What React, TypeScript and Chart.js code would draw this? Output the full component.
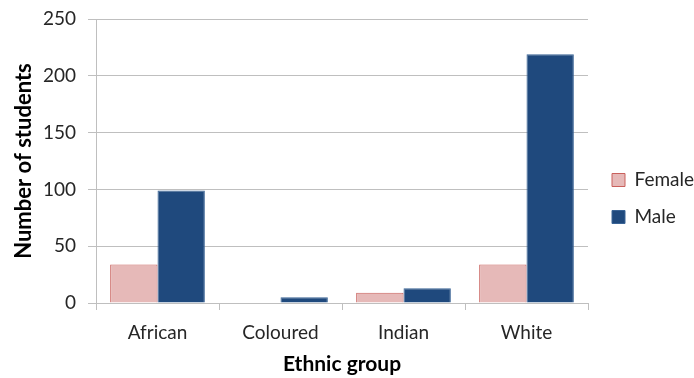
import React, { useEffect, useRef } from "react";
import { Chart, registerables } from "chart.js";

Chart.register(...registerables);

const categories = ["African", "Coloured", "Indian", "White"];
const femaleCounts = [34, 0, 9, 34];
const maleCounts = [99, 5, 13, 219];
const yMax = 250;
const yStep = 50;

const FONT = "Lato, 'Open Sans', sans-serif";

// Shift the right-hand legend a few pixels away from the plot area.
const legendInset = {
  id: "legendInset",
  afterLayout(chart: any) {
    if (chart.legend) {
      chart.legend.left += 6;
      chart.legend.right += 6;
    }
  },
};

export default function App() {
  const canvasRef = useRef<HTMLCanvasElement | null>(null);

  useEffect(() => {
    const canvas = canvasRef.current;
    if (!canvas) return;
    const chart = new Chart(canvas, {
      type: "bar",
      data: {
        labels: categories,
        datasets: [
          {
            label: "Female",
            data: femaleCounts,
            backgroundColor: "#e6b9b8",
            borderColor: "#c9605c",
            borderWidth: 1,
          },
          {
            label: "Male",
            data: maleCounts,
            backgroundColor: "#1f497d",
            borderColor: "#3a6496",
            borderWidth: 1,
          },
        ],
      },
      plugins: [legendInset],
      options: {
        animation: false,
        responsive: true,
        maintainAspectRatio: false,
        layout: { padding: { top: 19, right: 0, bottom: 0, left: 0 } },
        datasets: {
          bar: { categoryPercentage: 0.77, barPercentage: 1 },
        },
        plugins: {
          tooltip: { enabled: false },
          legend: {
            position: "right",
            align: "center",
            maxWidth: 106,
            labels: {
              boxWidth: 13,
              boxHeight: 13,
              padding: 18,
              color: "#262626",
              font: { family: FONT, size: 19 },
            },
          },
        },
        scales: {
          x: {
            afterFit: (scale: any) => {
              scale.height = 75;
            },
            grid: {
              offset: true,
              drawOnChartArea: false,
              drawTicks: true,
              tickLength: 7,
              color: "#bfbfbf",
            },
            border: { color: "#bfbfbf" },
            ticks: {
              color: "#262626",
              padding: 11,
              font: { family: FONT, size: 19 },
            },
            title: {
              display: true,
              text: "Ethnic group",
              color: "#000000",
              padding: { top: 4, bottom: 1 },
              font: { family: FONT, size: 21, weight: "bold" },
            },
          },
          y: {
            min: 0,
            max: yMax,
            afterFit: (scale: any) => {
              scale.width = 96;
              scale.paddingTop = 0;
              scale.paddingBottom = 0;
            },
            grid: {
              color: "#bfbfbf",
              drawTicks: true,
              tickLength: 8,
            },
            border: { color: "#bfbfbf" },
            ticks: {
              stepSize: yStep,
              color: "#262626",
              padding: 12,
              font: { family: FONT, size: 19 },
            },
            title: {
              display: true,
              text: "Number of students",
              color: "#000000",
              padding: { top: 11, bottom: 0 },
              font: { family: FONT, size: 22, weight: "bold" },
            },
          },
        },
      },
    });
    return () => chart.destroy();
  }, []);

  return (
    <div style={{ position: "fixed", left: 0, top: 0, width: 694, height: 378, background: "#ffffff" }}>
      <canvas ref={canvasRef} />
    </div>
  );
}
